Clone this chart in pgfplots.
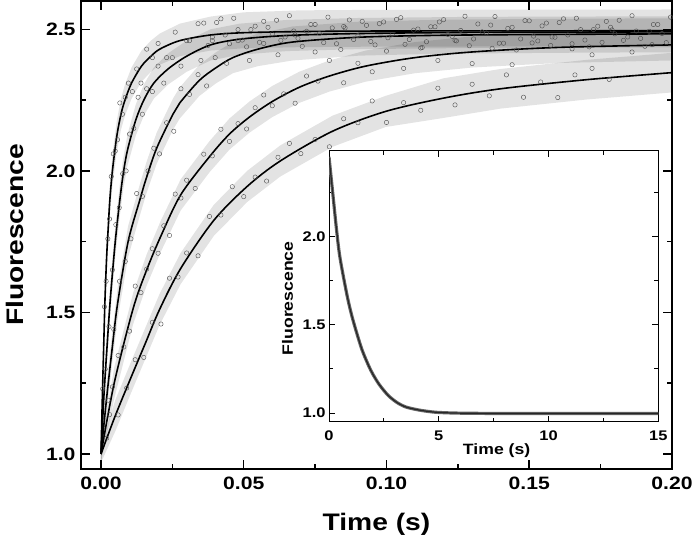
\documentclass[border=0pt]{standalone}
\usepackage{pgfplots}
\usepackage{pgfplotstable}
\pgfplotsset{compat=1.18}
\usepackage{fontspec}
\setmainfont{Liberation Sans}[FakeStretch=1.18]

\pgfplotstableread{
t y
0 1.0
0.0005 1.21
0.001 1.40
0.0014 1.545
0.002 1.70
0.0026 1.81
0.0031 1.897
0.004 2.0
0.0055 2.12
0.007 2.20
0.0084 2.25
0.0107 2.31
0.0142 2.37
0.0175 2.405
0.0206 2.43
0.0276 2.46
0.0384 2.48
0.05 2.488
0.07 2.492
0.1 2.494
0.2 2.495
}\curveA

\pgfplotstableread{
t y
0 1.0
0.001 1.20
0.002 1.36
0.00325 1.545
0.005 1.75
0.0066 1.897
0.0078 1.99
0.0093 2.074
0.0122 2.18
0.015 2.25
0.0185 2.31
0.0235 2.36
0.03 2.405
0.0384 2.445
0.0485 2.465
0.065 2.478
0.09 2.485
0.13 2.489
0.2 2.491
}\curveB

\pgfplotstableread{
t y
0 1.0
0.002 1.20
0.004 1.38
0.0058 1.53
0.0095 1.75
0.0136 1.897
0.0159 1.975
0.0195 2.08
0.0252 2.2
0.0276 2.24
0.0345 2.32
0.0404 2.365
0.0462 2.40
0.055 2.43
0.0671 2.455
0.0904 2.472
0.12 2.479
0.16 2.482
0.2 2.484
}\curveC

\pgfplotstableread{
t y
0 1.0
0.00465 1.251
0.0113 1.515
0.016 1.65
0.0209 1.768
0.0279 1.915
0.038 2.05
0.045 2.13
0.052 2.19
0.06 2.245
0.0694 2.295
0.08 2.335
0.0927 2.37
0.11 2.40
0.13 2.42
0.16 2.436
0.2 2.445
}\curveD

\pgfplotstableread{
t y
0 1.0
0.005 1.135
0.0105 1.27
0.0155 1.39
0.0205 1.51
0.0279 1.655
0.0395 1.825
0.0512 1.945
0.0628 2.035
0.0811 2.14
0.0997 2.21
0.12 2.257
0.14 2.29
0.17 2.322
0.2 2.347
}\curveE

% spread of the noisy data around each trace (upper edge, then lower edge back)
\pgfplotstableread{
t y
0 1.03
0.0005 1.265
0.001 1.455
0.0014 1.60
0.002 1.755
0.0026 1.865
0.0031 1.952
0.004 2.055
0.0055 2.175
0.007 2.255
0.0084 2.305
0.0107 2.365
0.0142 2.425
0.0175 2.46
0.0206 2.485
0.0276 2.52
0.0384 2.545
0.05 2.56
0.07 2.567
0.1 2.569
0.2 2.57
0.2 2.44
0.1 2.439
0.07 2.437
0.05 2.433
0.0384 2.425
0.0276 2.405
0.0206 2.375
0.0175 2.35
0.0142 2.315
0.0107 2.255
0.0084 2.195
0.007 2.145
0.0055 2.065
0.004 1.945
0.0031 1.842
0.0026 1.755
0.002 1.645
0.0014 1.49
0.001 1.345
0.0005 1.155
0 0.97
}\bandA

\pgfplotstableread{
t y
0 1.03
0.001 1.255
0.002 1.415
0.00325 1.60
0.005 1.805
0.0066 1.952
0.0078 2.045
0.0093 2.129
0.0122 2.235
0.015 2.305
0.0185 2.365
0.0235 2.415
0.03 2.46
0.0384 2.50
0.0485 2.52
0.065 2.533
0.09 2.54
0.13 2.544
0.2 2.546
0.2 2.436
0.13 2.434
0.09 2.43
0.065 2.423
0.0485 2.41
0.0384 2.39
0.03 2.35
0.0235 2.305
0.0185 2.255
0.015 2.195
0.0122 2.125
0.0093 2.019
0.0078 1.935
0.0066 1.842
0.005 1.695
0.00325 1.49
0.002 1.305
0.001 1.145
0 0.97
}\bandB

\pgfplotstableread{
t y
0 1.03
0.002 1.255
0.004 1.435
0.0058 1.585
0.0095 1.805
0.0136 1.952
0.0159 2.03
0.0195 2.135
0.0252 2.255
0.0276 2.295
0.0345 2.375
0.0404 2.42
0.0462 2.455
0.055 2.485
0.0671 2.51
0.0904 2.527
0.12 2.534
0.16 2.537
0.2 2.539
0.2 2.419
0.16 2.417
0.12 2.414
0.0904 2.407
0.0671 2.39
0.055 2.37
0.0462 2.345
0.0404 2.31
0.0345 2.265
0.0276 2.185
0.0252 2.145
0.0195 2.025
0.0159 1.92
0.0136 1.842
0.0095 1.695
0.0058 1.475
0.004 1.325
0.002 1.145
0 0.97
}\bandC

\pgfplotstableread{
t y
0 1.03
0.00465 1.306
0.0113 1.57
0.016 1.705
0.0209 1.823
0.0279 1.97
0.038 2.105
0.045 2.185
0.052 2.245
0.06 2.30
0.0694 2.35
0.08 2.39
0.0927 2.425
0.11 2.455
0.13 2.475
0.16 2.491
0.2 2.50
0.2 2.39
0.16 2.381
0.13 2.365
0.11 2.345
0.0927 2.315
0.08 2.28
0.0694 2.24
0.06 2.19
0.052 2.135
0.045 2.075
0.038 1.995
0.0279 1.86
0.0209 1.713
0.016 1.595
0.0113 1.46
0.00465 1.196
0 0.97
}\bandD

\pgfplotstableread{
t y
0 1.03
0.005 1.19
0.0105 1.325
0.0155 1.445
0.0205 1.565
0.0279 1.71
0.0395 1.88
0.0512 2.00
0.0628 2.09
0.0811 2.195
0.0997 2.265
0.12 2.327
0.14 2.36
0.17 2.392
0.2 2.417
0.2 2.277
0.17 2.252
0.14 2.22
0.12 2.187
0.0997 2.155
0.0811 2.085
0.0628 1.98
0.0512 1.89
0.0395 1.77
0.0279 1.60
0.0205 1.455
0.0155 1.335
0.0105 1.215
0.005 1.08
0 0.97
}\bandE

\pgfplotstableread{
t y
0.0006 1.23
0.0012 1.52
0.0018 1.61
0.0024 1.76
0.003 1.83
0.0036 1.98
0.0043 2.06
0.005 2.07
0.0058 2.11
0.0066 2.24
0.0075 2.20
0.0085 2.26
0.0096 2.31
0.011 2.28
0.0125 2.36
0.014 2.31
0.016 2.43
0.018 2.40
0.02 2.45
0.023 2.40
0.026 2.49
0.03 2.46
0.034 2.52
0.0015 1.30
0.0028 1.45
0.004 1.65
0.0052 1.81
0.0064 1.87
0.0076 1.99
0.0088 2.00
0.01 2.13
0.0115 2.15
0.013 2.26
0.0145 2.20
0.016 2.29
0.018 2.28
0.02 2.37
0.022 2.31
0.025 2.40
0.028 2.37
0.031 2.46
0.035 2.39
0.039 2.46
0.0025 1.19
0.0045 1.44
0.0065 1.61
0.0085 1.68
0.0105 1.76
0.0125 1.92
0.0145 1.91
0.0165 2.00
0.0185 2.08
0.0205 2.06
0.023 2.17
0.0255 2.14
0.028 2.29
0.031 2.27
0.034 2.34
0.037 2.30
0.04 2.40
0.044 2.38
0.048 2.46
0.052 2.39
0.057 2.45
0.062 2.41
0.068 2.48
0.075 2.42
0.085 2.51
0.036 2.522
0.039 2.472
0.042 2.537
0.045 2.449
0.048 2.499
0.051 2.438
0.054 2.511
0.057 2.528
0.060 2.484
0.063 2.461
0.066 2.548
0.069 2.468
0.072 2.493
0.075 2.517
0.078 2.453
0.081 2.505
0.084 2.429
0.087 2.533
0.090 2.478
0.093 2.514
0.096 2.445
0.099 2.526
0.102 2.482
0.105 2.541
0.108 2.464
0.111 2.501
0.114 2.456
0.117 2.509
0.120 2.534
0.123 2.475
0.126 2.496
0.129 2.442
0.132 2.519
0.135 2.487
0.138 2.545
0.141 2.451
0.144 2.507
0.147 2.466
0.150 2.530
0.153 2.459
0.156 2.522
0.159 2.472
0.162 2.537
0.165 2.449
0.168 2.499
0.171 2.438
0.174 2.511
0.177 2.528
0.180 2.484
0.183 2.461
0.186 2.548
0.189 2.468
0.192 2.493
0.195 2.517
0.198 2.453
0.0375 2.443
0.0405 2.524
0.0435 2.480
0.0465 2.539
0.0495 2.462
0.0525 2.499
0.0555 2.454
0.0585 2.507
0.0615 2.532
0.0645 2.473
0.0675 2.494
0.0705 2.440
0.0735 2.517
0.0765 2.485
0.0795 2.543
0.0825 2.449
0.0855 2.505
0.0885 2.464
0.0915 2.528
0.0945 2.457
0.0975 2.520
0.1005 2.470
0.1035 2.535
0.1065 2.447
0.1095 2.497
0.1125 2.436
0.1155 2.509
0.1185 2.526
0.1215 2.482
0.1245 2.459
0.1275 2.546
0.1305 2.466
0.1335 2.491
0.1365 2.515
0.1395 2.451
0.1425 2.503
0.1455 2.427
0.1485 2.531
0.1515 2.476
0.1545 2.512
0.1575 2.443
0.1605 2.524
0.1635 2.480
0.1665 2.539
0.1695 2.462
0.1725 2.499
0.1755 2.454
0.1785 2.507
0.1815 2.532
0.1845 2.473
0.1875 2.494
0.1905 2.440
0.1935 2.517
0.1965 2.485
0.1995 2.543
0.002 1.056
0.004 1.237
0.006 1.348
0.008 1.378
0.010 1.434
0.012 1.593
0.014 1.570
0.016 1.653
0.018 1.725
0.020 1.709
0.022 1.806
0.024 1.772
0.026 1.918
0.028 1.904
0.030 1.967
0.033 1.938
0.036 2.059
0.039 2.053
0.042 2.147
0.045 2.104
0.048 2.167
0.051 2.148
0.054 2.223
0.057 2.268
0.060 2.230
0.064 2.272
0.068 2.239
0.072 2.335
0.076 2.317
0.080 2.390
0.085 2.311
0.090 2.380
0.095 2.350
0.100 2.423
0.106 2.362
0.112 2.434
0.118 2.390
0.124 2.461
0.130 2.379
0.137 2.433
0.144 2.375
0.151 2.452
0.158 2.473
0.165 2.431
0.172 2.410
0.179 2.498
0.186 2.420
0.193 2.446
0.003 1.139
0.006 1.138
0.009 1.233
0.012 1.333
0.015 1.341
0.018 1.465
0.021 1.459
0.024 1.621
0.027 1.625
0.030 1.710
0.034 1.700
0.038 1.839
0.042 1.844
0.046 1.944
0.050 1.909
0.054 1.978
0.058 1.964
0.062 2.048
0.066 2.097
0.070 2.061
0.075 2.111
0.080 2.085
0.085 2.184
0.090 2.170
0.095 2.247
0.100 2.171
0.106 2.241
0.112 2.214
0.118 2.292
0.124 2.233
0.130 2.306
0.136 2.265
0.142 2.339
0.148 2.260
0.154 2.314
0.160 2.259
0.166 2.339
0.172 2.362
0.178 2.323
}\scatterdata

\pgfplotstableread{
t y
0 2.45
0.1 2.33
0.2 2.21
0.35 2.03
0.5 1.88
0.8 1.68
1.0 1.57
1.2 1.48
1.5 1.36
1.8 1.27
2.0 1.22
2.3 1.16
2.7 1.10
3.1 1.06
3.5 1.035
4.0 1.02
4.5 1.01
5.0 1.004
6.0 1.0
8.0 0.998
10.0 0.998
12.0 0.998
15.0 0.998
}\insetdata

\begin{document}
\begin{tikzpicture}
\useasboundingbox (-81bp,-71bp) rectangle (612bp,469bp);
\begin{axis}[
  scale only axis, width=591bp, height=468bp,
  xmin=-0.007, xmax=0.2, ymin=0.947, ymax=2.6,
  axis line style={line width=2bp},
  every tick/.style={line width=1.5bp, black},
  major tick length=9bp, minor tick length=5bp,
  tick align=inside,
  xtick={0,0.05,0.1,0.15,0.2}, minor xtick={0.025,0.075,0.125,0.175},
  ytick={1,1.5,2,2.5}, minor ytick={1.25,1.75,2.25},
  /pgf/number format/assume math mode=true,
  xticklabel style={font=\bfseries\fontsize{18}{18}\selectfont, /pgf/number format/fixed, /pgf/number format/fixed zerofill, /pgf/number format/precision=2, yshift=-4bp},
  yticklabel style={font=\bfseries\fontsize{18}{18}\selectfont, /pgf/number format/fixed, /pgf/number format/fixed zerofill, /pgf/number format/precision=1, xshift=-2bp},
  xlabel={Time (s)}, ylabel={Fluorescence},
  xlabel style={font=\bfseries\fontsize{24}{24}\selectfont, at={(axis description cs:0.5,-0.1175)}, anchor=center},
  ylabel style={font=\bfseries\fontsize{24}{24}\selectfont, at={(axis description cs:-0.1117,0.5)}, anchor=center},
]
\addplot[fill=black, fill opacity=0.11, draw=none] table {\bandA};
\addplot[fill=black, fill opacity=0.11, draw=none] table {\bandB};
\addplot[fill=black, fill opacity=0.11, draw=none] table {\bandC};
\addplot[fill=black, fill opacity=0.11, draw=none] table {\bandD};
\addplot[fill=black, fill opacity=0.11, draw=none] table {\bandE};
\addplot[only marks, mark=o, mark size=2.2bp, mark options={draw=black!70, line width=0.4bp}] table {\scatterdata};
\addplot[no marks, black, line width=1.6bp, smooth] table {\curveA};
\addplot[no marks, black, line width=1.6bp, smooth] table {\curveB};
\addplot[no marks, black, line width=1.6bp, smooth] table {\curveC};
\addplot[no marks, black, line width=1.6bp, smooth] table {\curveD};
\addplot[no marks, black, line width=1.6bp, smooth] table {\curveE};
\end{axis}
\begin{axis}[
  at={(248bp,47bp)}, anchor=south west,
  scale only axis, width=329.3bp, height=271.3bp,
  xmin=0, xmax=15, ymin=0.95, ymax=2.485,
  axis background/.style={fill=white},
  axis line style={line width=1bp},
  every tick/.style={line width=1bp, black},
  major tick length=6bp, minor tick length=4bp,
  tick align=inside,
  xtick={0,5,10,15}, minor xtick={2.5,7.5,12.5},
  ytick={1,1.5,2}, minor ytick={1.25,1.75,2.25},
  /pgf/number format/assume math mode=true,
  xticklabel style={font=\bfseries\fontsize{14}{14}\selectfont, yshift=-5bp},
  yticklabel style={font=\bfseries\fontsize{14}{14}\selectfont, /pgf/number format/fixed, /pgf/number format/fixed zerofill, /pgf/number format/precision=1},
  xlabel={Time (s)}, ylabel={Fluorescence},
  xlabel style={font=\bfseries\fontsize{15}{15}\selectfont, at={(axis description cs:0.509,-0.106)}, anchor=center},
  ylabel style={font=\bfseries\fontsize{15}{15}\selectfont, at={(axis description cs:-0.126,0.456)}, anchor=center},
]
\addplot[no marks, black!60, line width=3.2bp, smooth] table {\insetdata};
\addplot[no marks, black!85, line width=1.2bp, smooth] table {\insetdata};
\end{axis}
\end{tikzpicture}
\end{document}
